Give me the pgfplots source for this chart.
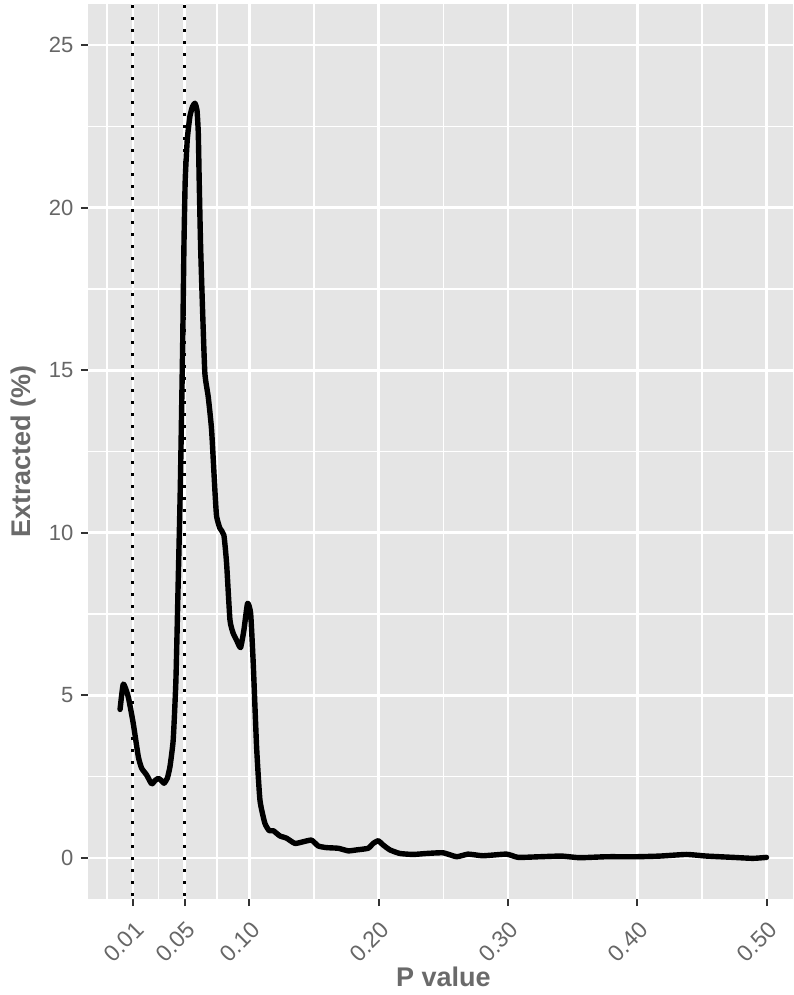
\documentclass[border=0pt]{standalone}
\usepackage{pgfplots}
\pgfplotsset{compat=1.18}
\usepackage{fontspec}
\setmainfont{Liberation Sans}
\definecolor{panel}{HTML}{E5E5E5}
\definecolor{ticktext}{HTML}{666666}
\definecolor{titletext}{HTML}{6A6A6A}
\definecolor{tickcol}{HTML}{333333}
\begin{document}
\begin{tikzpicture}
\path[use as bounding box] (-44pt,-48pt) rectangle (352.5pt,449.5pt);
\begin{axis}[
  at={(0,0)}, anchor=south west,
  scale only axis, width=352.5pt, height=447.5pt,
  xmin=-0.0248, xmax=0.5205, ymin=-1.26, ymax=26.26,
  axis background/.style={fill=panel},
  axis line style={draw=none},
  xtick={0.01,0.05,0.1,0.2,0.3,0.4,0.5},
  xticklabels={0.01,0.05,0.10,0.20,0.30,0.40,0.50},
  minor xtick={-0.01,0.03,0.075,0.15,0.25,0.35,0.45},
  ytick={0,5,10,15,20,25},
  yticklabels={0,5,10,15,20,25},
  minor ytick={2.5,7.5,12.5,17.5,22.5},
  grid=both,
  major grid style={white, line width=1.35pt},
  minor grid style={white, line width=0.65pt},
  tick align=outside, xtick pos=bottom, ytick pos=left,
  major tick length=3.6pt, minor tick length=0pt,
  major tick style={tickcol, line width=1pt},
  xticklabel style={rotate=45, anchor=north east, inner sep=0pt, xshift=-4.5pt, yshift=-5pt,
    font=\fontsize{11.5}{13}\selectfont, text=ticktext},
  yticklabel style={font=\fontsize{11}{13}\selectfont, text=ticktext, inner sep=0pt, xshift=-3.5pt},
  xlabel={\textbf{P value}},
  ylabel={\textbf{Extracted (\%)}},
  xlabel style={at={(axis description cs:0.504,-0.0983)}, anchor=base, font=\fontsize{13.5}{16}\selectfont, text=titletext},
  ylabel style={at={(axis description cs:-0.0908,0.5)}, anchor=center, rotate=0, font=\fontsize{13.5}{16}\selectfont, text=titletext},
  clip=true,
]
\addplot[black, line width=1.5pt, dash pattern=on 1.4pt off 4.6pt, line cap=butt] coordinates {(0.01,-3) (0.01,30)};
\addplot[black, line width=1.5pt, dash pattern=on 1.4pt off 4.6pt, line cap=butt] coordinates {(0.05,-3) (0.05,30)};
\addplot[black, line width=2.7pt, line join=round, line cap=round, smooth, tension=0.3] coordinates {
(0.000,4.57) (0.0025,5.35) (0.0063,4.96) (0.0102,4.14) (0.0141,3.12) (0.0167,2.76)
(0.0206,2.55) (0.0244,2.28) (0.0270,2.38) (0.0296,2.45) (0.0320,2.38) (0.034,2.30)
(0.0365,2.45) (0.0386,2.81) (0.0411,3.63) (0.0432,5.47) (0.045,8.55) (0.0466,11.4)
(0.0484,15.72) (0.0494,18.8) (0.0504,20.85) (0.0520,22.1) (0.0540,22.8) (0.0560,23.1)
(0.0579,23.21) (0.0595,23.0) (0.0605,22.3) (0.0612,20.85) (0.0623,18.8) (0.0639,16.75)
(0.0656,14.9) (0.0682,14.18) (0.0708,13.16) (0.0735,11.2) (0.0747,10.5) (0.0772,10.14)
(0.0803,9.93) (0.0824,9.06) (0.085,7.32) (0.0875,6.91) (0.0901,6.70) (0.0932,6.47)
(0.0958,7.01) (0.0986,7.83) (0.101,7.52) (0.103,5.99) (0.1056,3.42) (0.1082,1.78)
(0.112,1.07) (0.1154,0.84) (0.1185,0.84) (0.1236,0.68) (0.1288,0.61) (0.1352,0.45)
(0.1417,0.50) (0.1481,0.55) (0.1533,0.37) (0.1597,0.32) (0.1687,0.30) (0.1765,0.22)
(0.183,0.25) (0.1919,0.30) (0.1958,0.45) (0.1997,0.53) (0.2035,0.40) (0.2087,0.25)
(0.2164,0.14) (0.2267,0.11) (0.2371,0.14) (0.2499,0.16) (0.2603,0.04) (0.2692,0.12)
(0.2808,0.07) (0.2989,0.12) (0.3079,0.02) (0.3247,0.04) (0.3415,0.06) (0.3556,0.01)
(0.3762,0.04) (0.3994,0.04) (0.4175,0.06) (0.4381,0.11) (0.4536,0.06) (0.4741,0.02)
(0.4896,-0.01) (0.5,0.02)
};
\end{axis}
\end{tikzpicture}
\end{document}
